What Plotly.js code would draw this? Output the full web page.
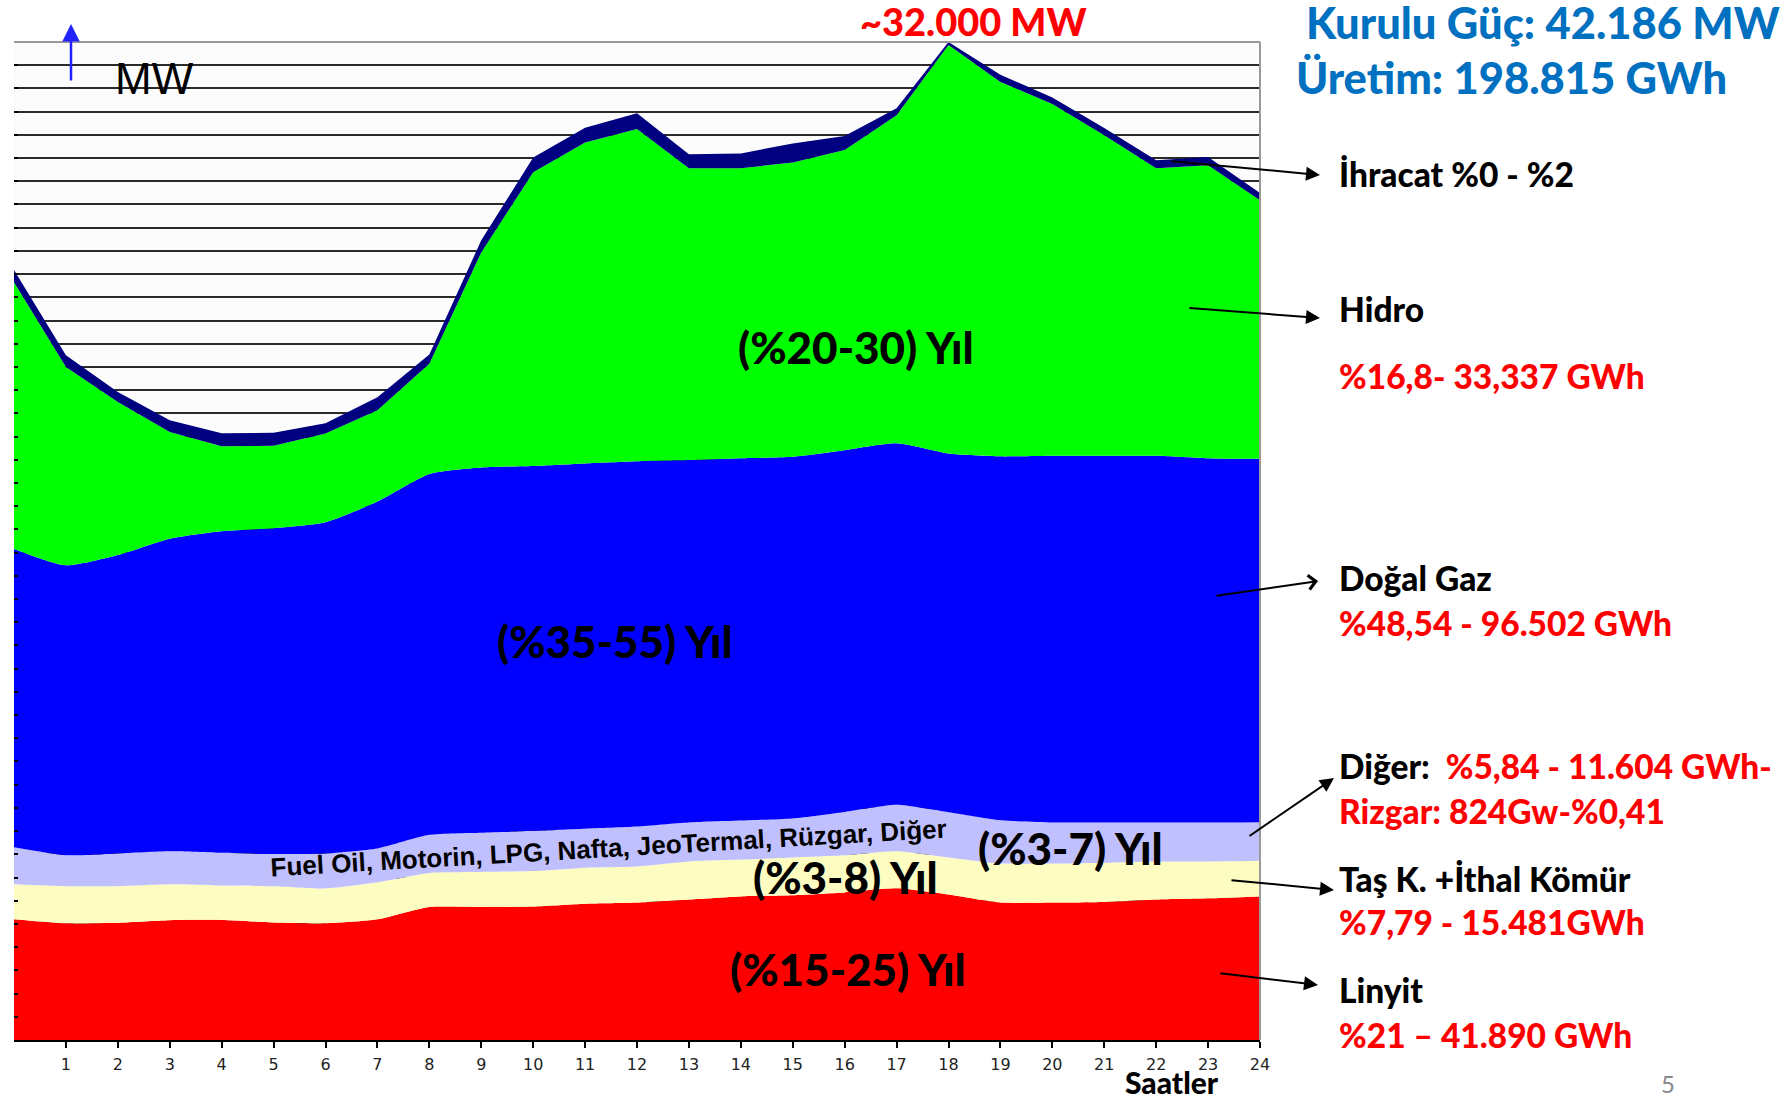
<!DOCTYPE html>
<html><head><meta charset="utf-8">
<script src="https://cdn.plot.ly/plotly-3.0.1.min.js"></script>
<style>html,body{margin:0;padding:0;background:#fff}#chart{width:1785px;height:1096px}</style>
</head><body><div id="chart"></div>
<script>
// ---- data (MW, hourly) ----
const hours = [0,1,2,3,4,5,6,7,8,9,10,11,12,13,14,15,16,17,18,19,20,21,22,23,24];
const tickHours = [1,2,3,4,5,6,7,8,9,10,11,12,13,14,15,16,17,18,19,20,21,22,23,24];
const linyit   = [3900,3770,3790,3870,3880,3800,3770,3900,4300,4300,4310,4400,4440,4540,4640,4680,4770,4900,4700,4440,4440,4460,4540,4580,4640];
const tasKomur = [1130,1200,1180,1160,1110,1170,1130,1200,1100,1130,1150,1170,1170,1230,1190,1220,1200,1200,1200,1260,1260,1270,1230,1190,1150];
const diger    = [1200,1000,1060,1070,1060,1040,1130,1090,1230,1270,1300,1260,1290,1260,1260,1260,1400,1500,1460,1400,1330,1300,1260,1260,1250];
const dogalGaz = [9640,9370,9640,10100,10390,10530,10700,11210,11660,11800,11790,11800,11800,11710,11710,11690,11690,11680,11590,11760,11850,11850,11850,11770,11740];
const hidro    = [8620,6410,4950,3450,2750,2660,2870,2950,3560,6950,9490,10370,10740,9430,9370,9510,9700,10600,13200,12100,11370,10360,9290,9470,8360];
const ihracat  = [390,380,320,380,420,420,330,420,300,390,480,480,510,450,480,610,450,230,100,230,210,230,260,260,230];

const seriesNames  = ['Linyit','Taş K. +İthal Kömür','Diğer','Doğal Gaz','Hidro','İhracat'];
const seriesValues = [linyit, tasKomur, diger, dogalGaz, hidro, ihracat];
const seriesColors = ['#ff0000','#fdfdc2','#c0c0ff','#0000ff','#00ff00','#000080'];
const seriesShapes = ['spline','spline','spline','spline','linear','linear'];

// ---- layout geometry (pixels) ----
const L = 14, R = 1260, T = 42, B = 1040;
const px = x => (x - L) / (R - L);
const py = y => (B - y) / (B - T);

const traces = seriesValues.map((v, i) => ({
  type: 'scatter', mode: 'lines', x: hours, y: v, name: seriesNames[i],
  stackgroup: 'one', fillcolor: seriesColors[i],
  line: {width: 0, shape: seriesShapes[i], smoothing: 0.6, color: seriesColors[i]},
  hoverinfo: 'x+y+name'
}));

const CAL = 'Lato, "Open Sans", sans-serif';
const ann = [];
function txt(x, y, text, size, color, opts) {
  ann.push(Object.assign({xref:'paper', yref:'paper', x: px(x), y: py(y), text: text,
    showarrow:false, font:{family:CAL, size:size, color:color, weight:900}, xanchor:'center', yanchor:'middle'}, opts||{}));
}
function arrow(tx, ty, sx, sy, head, color, width) {
  ann.push({xref:'paper', yref:'paper', x: px(tx), y: py(ty), ax: sx - tx, ay: sy - ty,
    axref:'pixel', ayref:'pixel', text:'', showarrow:true, arrowhead: head, arrowsize: 1.4,
    arrowwidth: width || 2, arrowcolor: color || '#000', standoff: 0, startstandoff: 0});
}

// in-chart labels
const IS = 44;
txt(856, 347, '(%20-30) Yıl', IS, '#000');
txt(615, 641, '(%35-55) Yıl', IS, '#000');
txt(1070, 848, '(%3-7) Yıl', IS, '#000');
txt(845, 877, '(%3-8) Yıl', IS, '#000');
txt(848, 969, '(%15-25) Yıl', IS, '#000');
txt(608, 848, '<b>Fuel Oil, Motorin, LPG, Nafta, JeoTermal, Rüzgar, Diğer</b>', 26, '#000',
    {textangle: -3.3, font:{family:'"Liberation Sans", Arial, sans-serif', size:26, color:'#000'}});
txt(154, 79, 'MW', 44, '#000', {font:{family:'"Liberation Sans", Arial, sans-serif', size:44, color:'#000'}});
arrow(71, 24, 71, 82, 2, '#2222ff', 2.5);

// titles
txt(973, 21, '~32.000 MW', 38, '#ff0000');
txt(1304, 22, 'Kurulu Güç: 42.186 MW', 43.5, '#0070c0', {xanchor:'left'});
txt(1294, 77, 'Üretim: 198.815 GWh', 43.5, '#0070c0', {xanchor:'left'});

// right-side legend labels
const RX = 1337, RS = 33.5;
txt(RX, 174, 'İhracat %0 - %2', RS, '#000', {xanchor:'left'});
txt(RX, 309, 'Hidro', RS, '#000', {xanchor:'left'});
txt(RX, 376, '%16,8- 33,337 GWh', RS, '#ff0000', {xanchor:'left'});
txt(RX, 578, 'Doğal Gaz', RS, '#000', {xanchor:'left'});
txt(RX, 623, '%48,54 - 96.502 GWh', RS, '#ff0000', {xanchor:'left'});
txt(RX, 766, '<span style="color:#000">Diğer:</span>  <span style="color:#ff0000">%5,84 - 11.604 GWh-</span>', RS, '#000', {xanchor:'left'});
txt(RX, 811, 'Rizgar: 824Gw-%0,41', RS, '#ff0000', {xanchor:'left'});
txt(RX, 879, 'Taş K. +İthal Kömür', RS, '#000', {xanchor:'left'});
txt(RX, 922, '%7,79 - 15.481GWh', RS, '#ff0000', {xanchor:'left'});
txt(RX, 990, 'Linyit', RS, '#000', {xanchor:'left'});
txt(RX, 1035, '%21 – 41.890 GWh', RS, '#ff0000', {xanchor:'left'});
txt(1172, 1082, 'Saatler', 30, '#000');
txt(1668, 1083, '5', 24, '#888888', {font:{family:CAL, size:24, color:'#888888'}});

// arrows to the series
arrow(1320, 175, 1170, 161, 2);
arrow(1320, 318, 1188, 308, 2);
arrow(1318, 581, 1215, 596, 4);
arrow(1334, 778, 1248, 837, 2);
arrow(1334, 890, 1230, 880, 2);
arrow(1318, 985, 1219, 973, 2);

const layout = {
  width: 1785, height: 1096,
  margin: {l: L, r: 1785 - R, t: T, b: 1096 - B, pad: 0},
  paper_bgcolor: '#ffffff', plot_bgcolor: '#fcfcfc',
  showlegend: false,
  xaxis: {range: [0, 24], tickmode: 'array', tickvals: tickHours, ticktext: tickHours.map(String),
    ticks: 'outside', ticklen: 6, tickwidth: 2, tickcolor: '#000',
    showline: true, linecolor: '#000', linewidth: 2, showgrid: false, zeroline: false,
    tickfont: {family: '"DejaVu Sans", sans-serif', size: 16, color: '#222'}, ticklabelstandoff: 3},
  yaxis: {range: [0, 32250], dtick: 750, tick0: 0, showticklabels: false,
    ticks: 'inside', ticklen: 4, tickwidth: 2, tickcolor: '#000',
    showgrid: true, gridcolor: '#2a2a2a', gridwidth: 2, zeroline: false, showline: false},
  shapes: [
    {type:'line', xref:'paper', yref:'paper', x0:1, x1:1, y0:0, y1:1, line:{color:'#999', width:2}},
    {type:'line', xref:'paper', yref:'paper', x0:0, x1:1, y0:1, y1:1, line:{color:'#999', width:2}}
  ],
  annotations: ann
};

Plotly.newPlot('chart', traces, layout, {displayModeBar: false, staticPlot: true});
</script></body></html>
